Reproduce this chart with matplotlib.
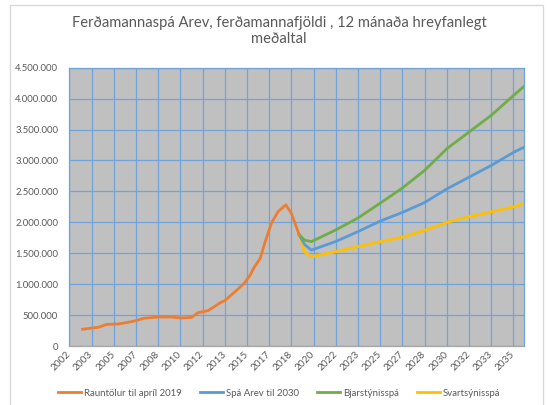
import matplotlib.pyplot as plt
from matplotlib.patches import Rectangle
from matplotlib.ticker import FuncFormatter, MultipleLocator

plt.rcParams['font.family'] = ['Lato', 'DejaVu Sans']

# x values are months counted from January 2002
actual_month = [12, 20, 26, 34, 44, 56, 62, 67, 80, 92, 101, 110, 116, 125, 136, 140,
                151, 158, 163, 166, 172, 176, 182, 188, 195, 200, 207]
actual_vals = [270, 290, 302, 350, 356, 393, 420, 448, 469, 469, 453, 462, 539, 571, 700, 733,
               906, 1024, 1150, 1257, 1419, 1662, 1985, 2173, 2282, 2147, 1800]

fc_month = [207, 212, 218, 240, 260, 280, 300, 320, 340, 360, 380, 400, 409]
base_vals = [1800, 1640, 1550, 1690, 1850, 2020, 2160, 2320, 2540, 2730, 2920, 3130, 3210]
high_vals = [1800, 1710, 1688, 1877, 2070, 2310, 2555, 2840, 3190, 3460, 3730, 4050, 4190]
low_vals = [1800, 1520, 1445, 1526, 1607, 1688, 1760, 1870, 2000, 2090, 2170, 2250, 2300]

tick_labels = ['2002', '2003', '2005', '2007', '2008', '2010', '2012', '2013', '2015', '2017',
               '2018', '2020', '2022', '2023', '2025', '2027', '2028', '2030', '2032', '2033',
               '2035']

series_names = ['Rauntölur til apríl 2019', 'Spá Arev til 2030', 'Bjarstýnisspá', 'Svartsýnisspá']
colors = ['#ED7D31', '#5B9BD5', '#70AD47', '#FFC000']

text_col = '#595959'
grid_col = '#6FA3DA'

fig = plt.figure(figsize=(5.47, 4.05), dpi=100)
fig.patches.append(Rectangle((10 / 547, -0.05), 533 / 547, 1.05 - 5 / 405,
                             transform=fig.transFigure, fill=False,
                             edgecolor='#D9D9D9', linewidth=1))

ax = fig.add_axes([69.3 / 547, (405 - 346) / 405, (524 - 69.3) / 547, (346 - 67.7) / 405])
ax.set_facecolor('#C0C0C0')

lw = 2.0
ax.plot(fc_month, low_vals, color=colors[3], lw=lw, label=series_names[3], zorder=3)
ax.plot(fc_month, base_vals, color=colors[1], lw=lw, label=series_names[1], zorder=4)
ax.plot(fc_month, high_vals, color=colors[2], lw=lw, label=series_names[2], zorder=5)
ax.plot(actual_month, actual_vals, color=colors[0], lw=lw, label=series_names[0], zorder=6)

ax.set_xlim(0, 409.5)
ax.set_ylim(0, 4500)
ax.yaxis.set_major_locator(MultipleLocator(500))
ax.yaxis.set_major_formatter(FuncFormatter(lambda v, p: f'{v * 1000:,.0f}'.replace(',', '.')))
ax.set_xticks(range(0, 20 * len(tick_labels), 20))
ax.set_xticklabels(tick_labels, rotation=45, ha='right', va='center', rotation_mode='anchor')

ax.grid(True, color=grid_col, linewidth=0.9, zorder=1)
ax.set_axisbelow(True)
for s in ax.spines.values():
    s.set_color(grid_col)
    s.set_linewidth(0.9)
ax.spines['bottom'].set_color('#A6A6A6')
ax.tick_params(length=0, labelsize=6.8, colors=text_col)
ax.tick_params(axis='x', labelsize=7.2, pad=5)
ax.tick_params(axis='y', pad=8)

fig.text(279 / 547, 1 - 31 / 405,
         'Ferðamannaspá Arev, ferðamannafjöldi , 12 mánaða hreyfanlegt\nmeðaltal',
         ha='center', va='center', fontsize=10.6, color=text_col, linespacing=1.2)

handles, labels = ax.get_legend_handles_labels()
order = [3, 1, 2, 0]
fig.legend([handles[i] for i in order], [labels[i] for i in order], loc='center',
           bbox_to_anchor=(279 / 547, 12 / 405), ncol=4, frameon=False, fontsize=6.9,
           labelcolor=text_col, handlelength=2.4, handletextpad=0.3, columnspacing=1.9)

fig.savefig('out.png', dpi=100)
